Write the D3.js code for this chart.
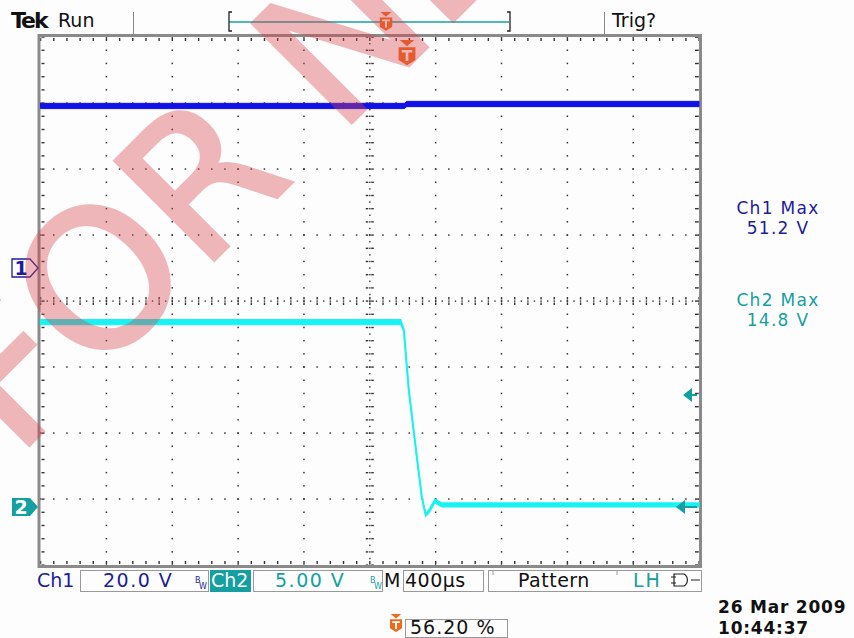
<!DOCTYPE html>
<html>
<head>
<meta charset="utf-8">
<script src="https://cdn.jsdelivr.net/npm/d3@7"></script>
<style>
  body { margin: 0; background: #fdfdfd; }
  text { font-family: "DejaVu Sans", sans-serif; }
</style>
</head>
<body>
<div id="scope"></div>
<script>
// time in microseconds relative to screen centre, 400 us/div
var ch2Time  = [-2000, 188, 207, 237, 286, 316, 340, 365, 395, 438, 2000];
var ch2Volts = [14.0, 14.0, 13.4, 8.86, 3.79, 0.76, -0.61, -0.23, 0.45, 0.15, 0.15];
var ch2Band  = [0.2, 0.2, 0.05, 0.05, 0.05, 0.05, 0.08, 0.12, 0.15, 0.15, 0.15];

var ch1Time  = [-2000, 210, 225, 2000];
var ch1Volts = [49.1, 49.1, 49.7, 49.7];
var ch1Band  = [0.8, 0.8, 0.8, 0.8];

var ch1Scale = 20, ch2Scale = 5;     // V/div
var ch1Pos = 0.5, ch2Pos = -3.12;    // divisions from centre
var timeDomain = [-2000, 2000];
var divDomain = [-4, 4];

var infoTop = ["Tek", "Run", "Trig?"];
var infoBottom = {ch1: "20.0 V", ch2: "5.00 V", time: "400\u00b5s", trig: "Pattern", trigLH: "LH", pos: "56.20 %"};
var measures = [["Ch1 Max", "51.2 V"], ["Ch2 Max", "14.8 V"]];
var dateLines = ["26 Mar  2009", "10:44:37"];
var levelMarks = [395, 507];  // trigger level arrows, px on right edge

var blue = "#1212e6", navy = "#1c1c9c", cyan = "#18f2f2", teal = "#14a0a0", orange = "#ec6a1c";

var svg = d3.select("#scope").append("svg")
    .attr("width", 854).attr("height", 638);

var gx0 = 40.5, gx1 = 699, gy0 = 37, gy1 = 565;
var x = d3.scaleLinear().domain(timeDomain).range([gx0, gx1]);
var ydiv = d3.scaleLinear().domain(divDomain).range([gy1, gy0]);
var cx = x(0), cy = ydiv(0);
var dx = (gx1 - gx0) / 10, dy = (gy1 - gy0) / 8;

// graticule
var grid = svg.append("g").attr("fill", "#333");
d3.range(-4, 6).forEach(function(i) {
  if (i == 0) return;
  var xx = x(i * 400);
  d3.range(0, 41).forEach(function(k) {
    grid.append("rect").attr("x", xx - 0.7).attr("y", gy0 + k * dy / 5 - 0.7)
      .attr("width", 1.5).attr("height", 1.5);
  });
});
d3.range(-3, 4).forEach(function(j) {
  if (j == 0) return;
  var yy = ydiv(j);
  d3.range(0, 51).forEach(function(k) {
    grid.append("rect").attr("x", gx0 + k * dx / 5 - 0.7).attr("y", yy - 0.7)
      .attr("width", 1.5).attr("height", 1.5);
  });
});
// centre lines with ticks
d3.range(0, 81).forEach(function(k) {
  var yy = gy0 + k * dy / 10;
  if (k % 2 == 0) {
    grid.append("rect").attr("x", cx - 4).attr("y", yy - 0.6).attr("width", 2.5).attr("height", 1.4);
    grid.append("rect").attr("x", cx + 1.5).attr("y", yy - 0.6).attr("width", 2.5).attr("height", 1.4);
  }
  grid.append("rect").attr("x", cx - 0.6).attr("y", yy - 0.6).attr("width", 1.4).attr("height", 1.4);
});
d3.range(0, 101).forEach(function(k) {
  var xx = gx0 + k * dx / 10;
  if (k % 2 == 0) {
    grid.append("rect").attr("x", xx - 0.6).attr("y", cy - 4).attr("width", 1.4).attr("height", 2.5);
    grid.append("rect").attr("x", xx - 0.6).attr("y", cy + 1.5).attr("width", 1.4).attr("height", 2.5);
  }
  grid.append("rect").attr("x", xx - 0.6).attr("y", cy - 0.6).attr("width", 1.4).attr("height", 1.4);
});
// edge ticks
d3.range(0, 51).forEach(function(k) {
  var xx = gx0 + k * dx / 5;
  grid.append("rect").attr("x", xx - 0.6).attr("y", gy0 + 1).attr("width", 1.4).attr("height", 3);
  grid.append("rect").attr("x", xx - 0.6).attr("y", gy1 - 4).attr("width", 1.4).attr("height", 3);
});
d3.range(0, 41).forEach(function(k) {
  var yy = gy0 + k * dy / 5;
  grid.append("rect").attr("x", gx0 + 1).attr("y", yy - 0.6).attr("width", 3).attr("height", 1.4);
  grid.append("rect").attr("x", gx1 - 4).attr("y", yy - 0.6).attr("width", 3).attr("height", 1.4);
});
svg.append("rect").attr("x", gx0 - 1.5).attr("y", gy0 - 1.5)
  .attr("width", gx1 - gx0 + 3).attr("height", gy1 - gy0 + 3)
  .attr("fill", "none").attr("stroke", "#8a8a8a").attr("stroke-width", 3);

// traces
function traceData(t, v, b, vdiv, pos) {
  return t.map(function(d, i) {
    return {t: d, lo: (v[i] - b[i]) / vdiv + pos, hi: (v[i] + b[i]) / vdiv + pos, v: v[i] / vdiv + pos};
  });
}
var area = d3.area().x(function(d) { return x(d.t); })
  .y0(function(d) { return ydiv(d.lo); }).y1(function(d) { return ydiv(d.hi); });
var line = d3.line().x(function(d) { return x(d.t); }).y(function(d) { return ydiv(d.v); });

var d1 = traceData(ch1Time, ch1Volts, ch1Band, ch1Scale, ch1Pos);
svg.append("path").datum(d1).attr("d", area).attr("fill", blue).attr("stroke", blue).attr("stroke-width", 1);
var d2 = traceData(ch2Time, ch2Volts, ch2Band, ch2Scale, ch2Pos);
svg.append("path").datum(d2).attr("d", area).attr("fill", cyan).attr("stroke", cyan).attr("stroke-width", 1.2);
svg.append("path").datum(d2).attr("d", line).attr("fill", "none").attr("stroke", cyan).attr("stroke-width", 2);

// channel ground markers
var m1 = ydiv(ch1Pos);
svg.append("path").attr("d", "M12," + (m1 - 9) + "H30L38," + m1 + "L30," + (m1 + 9) + "H12Z")
  .attr("fill", "#fff").attr("stroke", navy).attr("stroke-width", 1.3);
svg.append("text").attr("x", 21).attr("y", m1 + 7).attr("text-anchor", "middle")
  .attr("font-size", 19).attr("font-weight", "bold").attr("fill", navy).text("1");
var m2 = ydiv(ch2Pos);
svg.append("path").attr("d", "M12," + (m2 - 9) + "H30L38," + m2 + "L30," + (m2 + 9) + "H12Z")
  .attr("fill", teal);
svg.append("text").attr("x", 21).attr("y", m2 + 7).attr("text-anchor", "middle")
  .attr("font-size", 19).attr("font-weight", "bold").attr("fill", "#fff").text("2");

// trigger level arrows on right edge
levelMarks.forEach(function(yy, i) {
  var ax = i == 0 ? 683 : 676;
  svg.append("path").attr("d", "M" + ax + "," + yy + "L" + (ax + 9) + "," + (yy - 7) + "V" + (yy + 7) + "Z").attr("fill", teal);
  svg.append("line").attr("x1", ax + 8).attr("x2", 697).attr("y1", yy).attr("y2", yy)
    .attr("stroke", teal).attr("stroke-width", 2);
});

// trigger position marker
function tMark(px, top, s) {
  var g = svg.append("g").attr("transform", "translate(" + px + "," + top + ") scale(" + s + ")");
  g.append("path").attr("d", "M-7,0H7L0,6Z").attr("fill", orange);
  g.append("path").attr("d", "M-8,7H8V19L0,24L-8,19Z").attr("fill", orange);
  g.append("path").attr("d", "M-5,9.5H5V12H1.3V20H-1.3V12H-5Z").attr("fill", "#fff");
}
tMark(407, 40, 1.05);

// top bar
svg.append("text").attr("x", 11).attr("y", 28).attr("font-family", "DejaVu Serif")
  .attr("font-weight", "bold").attr("font-size", 22).attr("letter-spacing", -2).attr("fill", "#111").text(infoTop[0]);
svg.append("text").attr("x", 58).attr("y", 27).attr("font-size", 19).attr("fill", "#111").text(infoTop[1]);
svg.append("line").attr("x1", 133.5).attr("x2", 133.5).attr("y1", 12).attr("y2", 34).attr("stroke", "#888");
svg.append("line").attr("x1", 604.5).attr("x2", 604.5).attr("y1", 12).attr("y2", 34).attr("stroke", "#888");
svg.append("text").attr("x", 612).attr("y", 27).attr("font-size", 19).attr("fill", "#111").text(infoTop[2]);
svg.append("line").attr("x1", 229).attr("x2", 509).attr("y1", 22).attr("y2", 22).attr("stroke", teal).attr("stroke-width", 1.5);
svg.append("path").attr("d", "M232,12H229V31H232M507,12H510V31H507").attr("fill", "none").attr("stroke", "#222").attr("stroke-width", 1.3);
tMark(386, 12, 0.78);

// bottom bar
function box(x0, x1, y0, y1) {
  svg.append("rect").attr("x", x0 + 0.5).attr("y", y0 + 0.5).attr("width", x1 - x0).attr("height", y1 - y0)
    .attr("fill", "none").attr("stroke", "#999").attr("stroke-width", 1);
}
var fs = 19, by = 587;
svg.append("text").attr("x", 37).attr("y", by).attr("font-size", fs).attr("fill", navy).text("Ch1");
box(80, 208, 570, 591);
svg.append("text").attr("x", 103).attr("y", by).attr("font-size", fs).attr("letter-spacing", 1.5).attr("fill", navy).text(infoBottom.ch1);
svg.append("text").attr("x", 195).attr("y", 583).attr("font-size", 8).attr("fill", navy).text("B");
svg.append("text").attr("x", 199).attr("y", 589).attr("font-size", 8).attr("fill", navy).text("W");
svg.append("rect").attr("x", 210).attr("y", 570).attr("width", 41).attr("height", 22).attr("fill", teal);
svg.append("text").attr("x", 211).attr("y", by).attr("font-size", fs).attr("fill", "#fff").text("Ch2");
box(253, 382, 570, 591);
svg.append("text").attr("x", 275).attr("y", by).attr("font-size", fs).attr("letter-spacing", 1.5).attr("fill", teal).text(infoBottom.ch2);
svg.append("text").attr("x", 370).attr("y", 583).attr("font-size", 8).attr("fill", teal).text("B");
svg.append("text").attr("x", 374).attr("y", 589).attr("font-size", 8).attr("fill", teal).text("W");
svg.append("text").attr("x", 384).attr("y", by).attr("font-size", fs).attr("fill", "#111").text("M");
box(403, 483, 570, 591);
svg.append("text").attr("x", 405).attr("y", by).attr("font-size", fs).attr("letter-spacing", 0.5).attr("fill", "#111").text(infoBottom.time);
box(488, 701, 570, 591);
svg.append("path").attr("d", "M493,571V575M617,571V575").attr("stroke", "#999");
svg.append("text").attr("x", 518).attr("y", by).attr("font-size", fs).attr("letter-spacing", 0.5).attr("fill", "#111").text(infoBottom.trig);
svg.append("text").attr("x", 633).attr("y", by).attr("font-size", fs).attr("letter-spacing", 2).attr("fill", teal).text(infoBottom.trigLH);
svg.append("path").attr("d", "M674,574H684A7,7 0 0 1 684,586H674Z M671,577H676 M671,583H676 M691,580H700")
  .attr("fill", "none").attr("stroke", "#222").attr("stroke-width", 1.2);

tMark(396, 614, 0.75);
box(405, 507, 619, 637);
svg.append("text").attr("x", 410).attr("y", 634).attr("font-size", fs).attr("letter-spacing", 1).attr("fill", "#111").text(infoBottom.pos);

svg.append("text").attr("x", 718).attr("y", 613).attr("font-size", 17).attr("font-weight", "bold").attr("letter-spacing", 0.8).attr("fill", "#111").text(dateLines[0]);
svg.append("text").attr("x", 718).attr("y", 634).attr("font-size", 17).attr("font-weight", "bold").attr("letter-spacing", 0.8).attr("fill", "#111").text(dateLines[1]);

// measurements
measures.forEach(function(m, i) {
  var col = i == 0 ? navy : teal, yy = 214 + i * 92;
  svg.append("text").attr("x", 778).attr("y", yy).attr("text-anchor", "middle").attr("font-size", 17).attr("letter-spacing", 1.3).attr("fill", col).text(m[0]);
  svg.append("text").attr("x", 778).attr("y", yy + 20).attr("text-anchor", "middle").attr("font-size", 17).attr("letter-spacing", 1.3).attr("fill", col).text(m[1]);
});

// watermark
svg.append("g").attr("opacity", 0.38)
  .append("text").attr("transform", "translate(16,458) rotate(-45)")
  .attr("font-family", "Liberation Sans").attr("font-size", 192)
  .attr("fill", "#d9454f").attr("stroke", "#d9454f").attr("stroke-width", 4)
  .attr("stroke-linejoin", "miter").text("FOR NEW");
</script>
</body>
</html>
